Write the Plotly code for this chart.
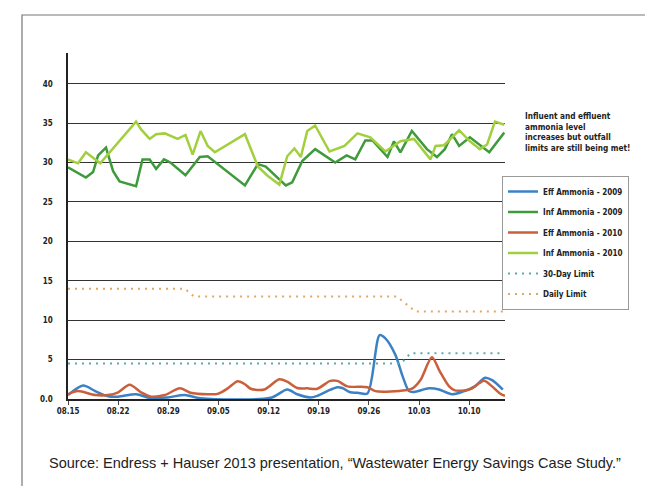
import plotly.graph_objects as go

# x values are days after 08.15
week_ticks = [0, 7, 14, 21, 28, 35, 42, 49, 56]
week_labels = ["08.15", "08.22", "08.29", "09.05", "09.12", "09.19", "09.26", "10.03", "10.10"]
y_ticks = [0, 5, 10, 15, 20, 25, 30, 35, 40]
y_labels = ["0.0", "5", "10", "15", "20", "25", "30", "35", "40"]

eff09_day = [0, 2.1, 3.8, 5.6, 7.0, 9.5, 11.6, 13.9, 16.3, 18.5, 28.3, 30.6, 32.0, 33.8, 34.8,
             36.2, 37.6, 38.3, 39.4, 40.4, 41.8, 43.5, 44.3, 45.7, 46.7, 47.6, 48.3, 50.4,
             51.8, 53.6, 55.0, 56.8, 58.2, 59.2, 60.7]
eff09_val = [0.5, 1.7, 1.0, 0.35, 0.3, 0.6, 0.1, 0.2, 0.5, 0.1, 0.15, 1.2, 0.6, 0.2, 0.4,
             1.0, 1.5, 1.4, 0.85, 0.8, 0.7, 8.1, 7.7, 5.6, 2.9, 1.0, 0.9, 1.35,
             1.2, 0.6, 0.9, 1.6, 2.7, 2.4, 1.2]

eff10_day = [0, 1.4, 3.8, 5.6, 7.0, 8.6, 10.2, 11.6, 13.5, 15.6, 17.1, 19.5, 20.9, 22.3, 23.7,
             24.8, 25.5, 27.4, 29.5, 30.6, 32.0, 33.4, 34.8, 36.6, 37.6, 39.0, 41.8, 42.9,
             47.1, 48.1, 49.2, 50.8, 51.9, 53.2, 54.0, 56.0, 57.4, 58.1, 59.2, 60.3, 61.0]
eff10_val = [0.6, 1.0, 0.5, 0.5, 0.85, 1.8, 0.85, 0.3, 0.5, 1.35, 0.8, 0.6, 0.65, 1.35, 2.25,
             1.8, 1.3, 1.2, 2.5, 2.2, 1.4, 1.35, 1.3, 2.3, 2.3, 1.6, 1.5, 1.0,
             1.1, 1.35, 2.4, 5.3, 3.5, 1.6, 1.1, 1.2, 2.0, 2.3, 1.6, 0.7, 0.4]

inf09_day = [0, 2.5, 3.5, 4.2, 5.3, 6.3, 7.2, 9.5, 10.4, 11.4, 12.3, 13.4, 14.3, 16.4, 18.4,
             19.5, 24.7, 26.5, 27.6, 29.2, 30.4, 31.3, 32.7, 34.5, 37.3, 38.9, 40.1, 41.5,
             42.5, 44.6, 45.5, 46.4, 48.0, 50.1, 51.5, 52.6, 53.6, 54.6, 56.1, 58.8, 60.9]
inf09_val = [29.4, 28.1, 28.8, 30.9, 31.9, 28.9, 27.6, 27.0, 30.4, 30.4, 29.2, 30.4, 30.0, 28.4, 30.7,
             30.8, 27.1, 29.8, 29.5, 28.1, 27.1, 27.5, 30.2, 31.7, 30.0, 30.9, 30.4, 32.8,
             32.8, 30.7, 32.7, 31.3, 34.0, 31.7, 30.7, 31.7, 33.6, 32.1, 33.2, 31.3, 33.8]

inf10_day = [0, 1.4, 2.5, 4.5, 9.5, 10.2, 11.4, 12.3, 13.5, 15.3, 16.4, 17.4, 18.5, 19.5, 20.5,
             24.7, 26.5, 27.9, 29.5, 30.6, 31.6, 32.5, 33.4, 34.5, 36.5, 38.6, 40.4, 42.2,
             44.3, 46.4, 48.3, 50.6, 51.3, 52.5, 54.6, 56.1, 57.5, 58.5, 59.6, 60.9]
inf10_val = [30.4, 29.9, 31.3, 29.9, 35.2, 34.2, 33.0, 33.6, 33.7, 33.0, 33.5, 31.0, 34.0, 32.1, 31.3,
             33.6, 29.5, 28.3, 27.2, 30.8, 31.8, 30.7, 34.0, 34.7, 31.4, 32.1, 33.7, 33.2,
             31.4, 32.7, 33.0, 30.4, 32.1, 32.2, 34.1, 32.7, 31.7, 32.3, 35.2, 34.8]

limit30_day = [0, 46.5, 47.8, 60.9]
limit30_val = [4.5, 4.5, 5.8, 5.8]
daily_day = [0, 16.3, 17.6, 45.9, 48.5, 60.9]
daily_val = [14, 14, 13, 13, 11.1, 11.1]

W, H = 653, 486
L, R, T, B = 60, 156, 45, 95
PW, PH = W - L - R, H - T - B

COND = "Liberation Sans Narrow, DejaVu Sans Condensed, Roboto, sans-serif"


def px_x(px):
    return (px - L) / PW


def px_y(py):
    return (H - B - py) / PH


fig = go.Figure()
series = [
    ("Eff Ammonia - 2009", eff09_day, eff09_val, "#3b82c4", "spline"),
    ("Inf Ammonia - 2009", inf09_day, inf09_val, "#3f9a3c", "linear"),
    ("Eff Ammonia - 2010", eff10_day, eff10_val, "#c9603b", "spline"),
    ("Inf Ammonia - 2010", inf10_day, inf10_val, "#a2cf3e", "linear"),
]
for name, xs, ys, color, shape in series:
    fig.add_trace(go.Scatter(
        x=xs, y=ys, mode="lines", name=name, legendgroup=name,
        line=dict(color=color, width=2.5, shape=shape, smoothing=0.8),
    ))
fig.add_trace(go.Scatter(
    x=limit30_day, y=limit30_val, mode="lines", name="30-Day Limit", legendgroup="30",
    line=dict(color="#5fa9a8", width=2, dash="2px,5px"),
))
fig.add_trace(go.Scatter(
    x=daily_day, y=daily_val, mode="lines", name="Daily Limit", legendgroup="d",
    line=dict(color="#e2a767", width=2, dash="2px,5px"),
))

fig.update_layout(
    width=W, height=H,
    margin=dict(l=L, r=R, t=T, b=B, autoexpand=False),
    paper_bgcolor="white", plot_bgcolor="white",
    font=dict(family=COND, color="#222"),
    xaxis=dict(
        range=[0, 61], tickvals=week_ticks, ticktext=week_labels,
        showgrid=False, zeroline=False, showline=True, linecolor="#222", linewidth=1.5,
        ticks="outside", ticklen=4, tickcolor="#444",
        tickfont=dict(family=COND, size=8, weight="bold", color="#222"),
    ),
    yaxis=dict(
        range=[0, 43.9], tickvals=y_ticks, ticktext=y_labels,
        showgrid=True, gridcolor="#333", gridwidth=1.2, zeroline=False,
        showline=True, linecolor="#222", linewidth=1.5, ticks="", ticklabelstandoff=12,
        tickfont=dict(family=COND, size=8, weight="bold", color="#222"),
    ),
    legend=dict(
        x=px_x(494), y=px_y(168), xanchor="left", yanchor="top",
        bordercolor="#999", borderwidth=1, bgcolor="white",
        font=dict(family=COND, size=8, weight="bold", color="#222"),
        tracegroupgap=1.5, traceorder="grouped",
    ),
    annotations=[
        dict(
            x=px_x(515), y=px_y(101), xref="paper", yref="paper",
            xanchor="left", yanchor="top", align="left", showarrow=False,
            text="Influent and effluent<br>ammonia level<br>increases but outfall<br>limits are still being met!",
            font=dict(family=COND, size=8.2, weight="bold", color="#222"),
        ),
        dict(
            x=px_x(327), y=px_y(455), xref="paper", yref="paper",
            xanchor="center", yanchor="middle", showarrow=False,
            text="Source: Endress + Hauser 2013 presentation, \u201cWastewater Energy Savings Case Study.\u201d",
            font=dict(family="Liberation Sans, Arial, sans-serif", size=14.5, color="#222"),
        ),
    ],
    shapes=[
        dict(type="rect", xref="paper", yref="paper",
             x0=px_x(14), x1=px_x(645), y0=px_y(484), y1=px_y(7),
             line=dict(color="#777", width=1.2)),
    ],
)

fig.write_html("out.html")
